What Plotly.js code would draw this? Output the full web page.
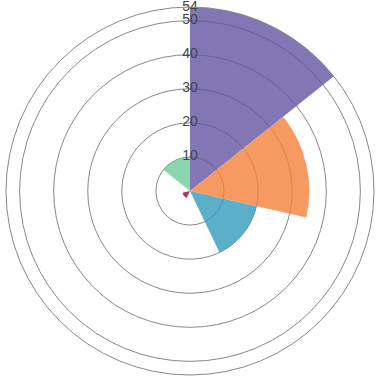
<!DOCTYPE html>
<html>
<head>
<meta charset="utf-8">
<script src="https://cdn.plot.ly/plotly-3.0.1.min.js"></script>
<style>html,body{margin:0;padding:0;background:#fff;}#chart{width:380px;height:382px;}</style>
</head>
<body>
<div id="chart"></div>
<script>
const categories = ["A", "B", "C", "D", "E", "F", "G"];
const values = [54, 35, 20, 0, 2.3, 0, 10];
const colors = ["#6454a2", "#f5813b", "#329bba", "#fdae61", "#a3002d", "#abdda4", "#6ecc97"];
const tickValues = [10, 20, 30, 40, 50, 54];
const tickLabels = ["10", "20", "30", "40", "50", "54"];

const step = 360 / categories.length;

const bars = {
  type: "barpolar",
  r: values,
  theta: categories.map((c, i) => (i + 0.5) * step),
  width: categories.map(() => step),
  text: categories,
  marker: { color: colors, opacity: 0.8, line: { width: 0 } },
  hoverinfo: "text+r"
};

const labels = {
  type: "scatterpolar",
  mode: "text",
  r: tickValues,
  theta: tickValues.map(() => 0),
  text: tickLabels,
  textposition: "middle center",
  textfont: { family: "Liberation Sans, Arial, sans-serif", size: 14, color: "#444" },
  cliponaxis: false,
  hoverinfo: "skip"
};

const layout = {
  width: 380,
  height: 382,
  margin: { l: 6, r: 6, t: 7, b: 7 },
  paper_bgcolor: "#fff",
  showlegend: false,
  font: { family: "Liberation Sans, Arial, sans-serif", size: 14, color: "#444" },
  polar: {
    bgcolor: "rgba(0,0,0,0)",
    bargap: 0,
    domain: { x: [0, 1], y: [0, 1] },
    radialaxis: {
      range: [0, 54],
      angle: 90,
      tickvals: tickValues,
      showticklabels: false,
      ticks: "",
      showline: false,
      showgrid: true,
      gridcolor: "#888",
      gridwidth: 1
    },
    angularaxis: {
      type: "linear",
      direction: "clockwise",
      rotation: 90,
      showticklabels: false,
      ticks: "",
      showgrid: false,
      showline: true,
      linecolor: "#888",
      linewidth: 1
    }
  }
};

Plotly.newPlot("chart", [bars, labels], layout, { displayModeBar: false, staticPlot: true });
</script>
</body>
</html>
